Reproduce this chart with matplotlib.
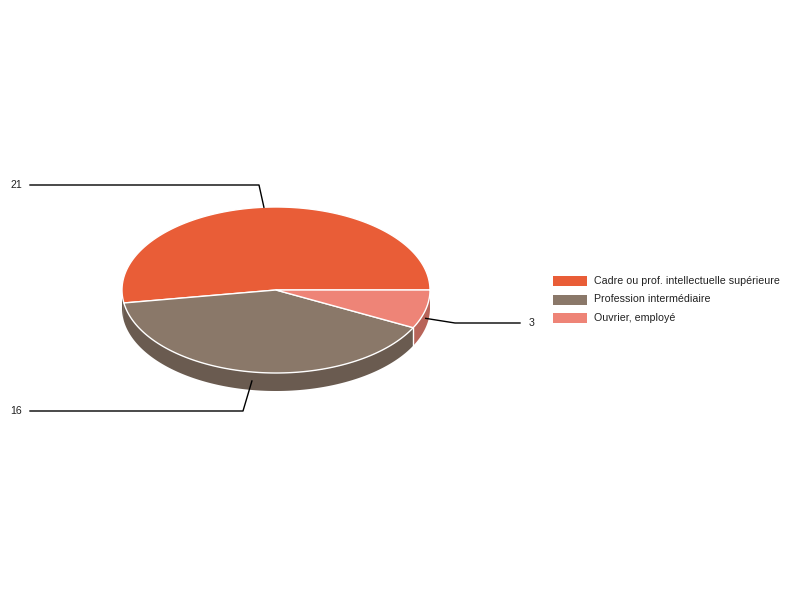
import numpy as np
import matplotlib
matplotlib.use('Agg')
import matplotlib.pyplot as plt
from matplotlib.patches import Polygon, Rectangle

plt.rcParams['font.family'] = ['Liberation Sans', 'DejaVu Sans']

categories = ['Cadre ou prof. intellectuelle supérieure', 'Profession intermédiaire', 'Ouvrier, employé']
values = [21, 16, 3]
colors = ['#E95D37', '#8A7869', '#EE8477']
side_colors = ['#6A5B50', '#6A5B50', '#B86459']

# layout (pixels)
cx, cy, rx, ry, depth = 276, 290, 154, 83, 18
# leader-line elbows and label positions (layout)
elbows = [(259, 185), (243, 411), (455, 323)]
label_ends = [(30, 185), (30, 411), (520, 323)]
label_pos = [(22, 185, 'right'), (22, 411, 'right'), (529, 323, 'left')]

fig = plt.figure(figsize=(8, 6), dpi=100)
ax = fig.add_axes([0, 0, 1, 1])
ax.set_xlim(0, 800)
ax.set_ylim(600, 0)
ax.axis('off')


def pt(theta, dy=0.0):
    t = np.radians(theta)
    return cx + rx * np.cos(t), cy - ry * np.sin(t) + dy


def arc(a0, a1, dy=0.0, n=None):
    if n is None:
        n = max(2, int(abs(a1 - a0) * 2))
    th = np.linspace(a0, a1, n)
    xs, ys = pt(th, dy)
    return np.column_stack([xs, ys])


total = float(sum(values))
bounds = np.concatenate([[0], np.cumsum(values) / total * 360.0])

# sides (front half: 180..360)
for i in range(len(values)):
    a0, a1 = bounds[i], bounds[i + 1]
    s, e = max(a0, 180), min(a1, 360)
    if e > s:
        top = arc(s, e)
        bot = arc(e, s, depth)
        ax.add_patch(Polygon(np.vstack([top, bot]), closed=True,
                             facecolor=side_colors[i], edgecolor='none', zorder=1))
# white vertical separators on side
for b in bounds:
    if 200 < b < 360:
        x0, y0 = pt(b)
        ax.plot([x0, x0], [y0, y0 + depth], color='white', lw=1, zorder=2)

# tops
for i in range(len(values)):
    a0, a1 = bounds[i], bounds[i + 1]
    pts = np.vstack([[cx, cy], arc(a0, a1)])
    ax.add_patch(Polygon(pts, closed=True, facecolor=colors[i],
                         edgecolor='white', lw=1, joinstyle='round', zorder=3))

# labels with leader lines
for i, v in enumerate(values):
    mid = (bounds[i] + bounds[i + 1]) / 2
    front = 180 < mid < 360
    ax_, ay_ = pt(mid, depth / 2 if front else 0)
    ex, ey = elbows[i]
    lx, ly = label_ends[i]
    ax.plot([ax_, ex, lx], [ay_, ey, ly], color='black', lw=1, zorder=4)
    tx, ty, ha = label_pos[i]
    ax.text(tx, ty, str(v), ha=ha, va='center', fontsize=7.7, color='#222222')

# legend
lx0, ly0, sw, sh, gap = 553, 281, 34, 10, 18.5
for i, c in enumerate(categories):
    y = ly0 + i * gap
    ax.add_patch(Rectangle((lx0, y - sh / 2), sw, sh, facecolor=colors[i], edgecolor='none'))
    ax.text(lx0 + sw + 7, y, c, ha='left', va='center', fontsize=7.7, color='#222222')

fig.savefig('out.png', dpi=100)
